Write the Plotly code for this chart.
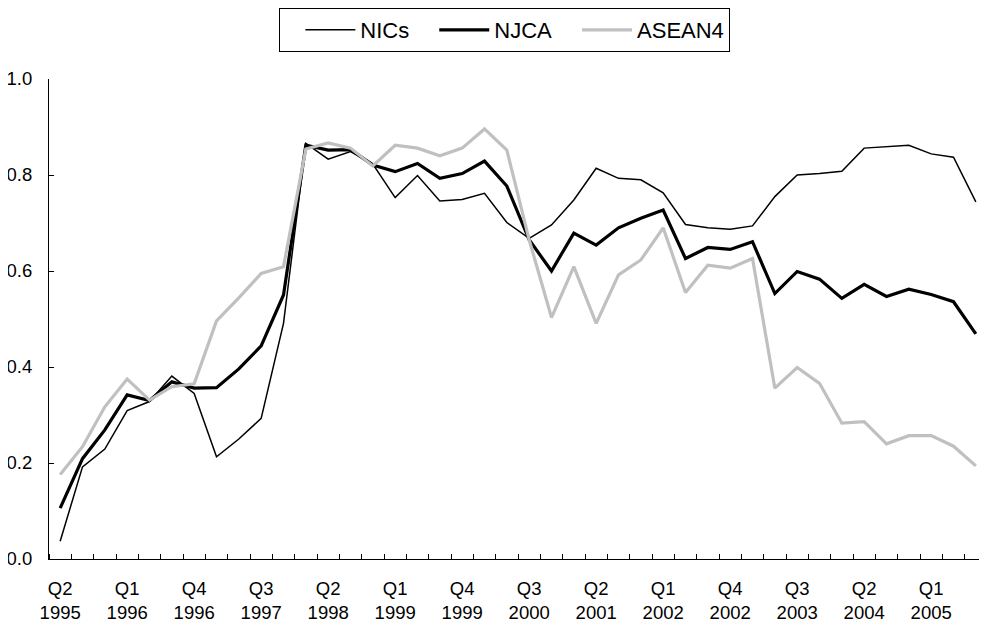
import plotly.graph_objects as go

quarters = [
    "1995Q2", "1995Q3", "1995Q4",
    "1996Q1", "1996Q2", "1996Q3", "1996Q4",
    "1997Q1", "1997Q2", "1997Q3", "1997Q4",
    "1998Q1", "1998Q2", "1998Q3", "1998Q4",
    "1999Q1", "1999Q2", "1999Q3", "1999Q4",
    "2000Q1", "2000Q2", "2000Q3", "2000Q4",
    "2001Q1", "2001Q2", "2001Q3", "2001Q4",
    "2002Q1", "2002Q2", "2002Q3", "2002Q4",
    "2003Q1", "2003Q2", "2003Q3", "2003Q4",
    "2004Q1", "2004Q2", "2004Q3", "2004Q4",
    "2005Q1", "2005Q2", "2005Q3",
]

nics = [0.037, 0.192, 0.229, 0.309, 0.328, 0.381, 0.345, 0.213, 0.250, 0.293,
        0.491, 0.866, 0.833, 0.849, 0.823, 0.753, 0.799, 0.746, 0.749, 0.762,
        0.701, 0.668, 0.696, 0.748, 0.814, 0.793, 0.790, 0.763, 0.697, 0.690,
        0.687, 0.694, 0.755, 0.800, 0.803, 0.808, 0.856, 0.859, 0.862, 0.844,
        0.837, 0.744]

njca = [0.106, 0.209, 0.269, 0.342, 0.330, 0.369, 0.356, 0.357, 0.396, 0.444,
        0.550, 0.862, 0.852, 0.853, 0.821, 0.807, 0.824, 0.793, 0.803, 0.829,
        0.777, 0.665, 0.600, 0.679, 0.654, 0.690, 0.710, 0.727, 0.626, 0.649,
        0.645, 0.661, 0.553, 0.599, 0.583, 0.543, 0.572, 0.547, 0.562, 0.551,
        0.536, 0.469]

asean4 = [0.176, 0.234, 0.317, 0.375, 0.331, 0.359, 0.365, 0.496, 0.544, 0.595,
          0.609, 0.854, 0.867, 0.856, 0.819, 0.862, 0.856, 0.840, 0.856, 0.896,
          0.852, 0.665, 0.503, 0.609, 0.491, 0.592, 0.623, 0.690, 0.555, 0.612,
          0.606, 0.626, 0.356, 0.399, 0.366, 0.283, 0.286, 0.240, 0.257, 0.257,
          0.235, 0.194]

tick_labels = ["Q2<br>1995", "Q1<br>1996", "Q4<br>1996", "Q3<br>1997", "Q2<br>1998",
               "Q1<br>1999", "Q4<br>1999", "Q3<br>2000", "Q2<br>2001", "Q1<br>2002",
               "Q4<br>2002", "Q3<br>2003", "Q2<br>2004", "Q1<br>2005"]
tick_positions = [quarters.index(q) for q in
                  ["1995Q2", "1996Q1", "1996Q4", "1997Q3", "1998Q2", "1999Q1", "1999Q4",
                   "2000Q3", "2001Q2", "2002Q1", "2002Q4", "2003Q3", "2004Q2", "2005Q1"]]

x = list(range(len(quarters)))
FONT = "Liberation Sans, Arial, sans-serif"

fig = go.Figure()
fig.add_trace(go.Scatter(x=x, y=nics, name="NICs", mode="lines",
                         line=dict(color="black", width=1.5), customdata=quarters))
fig.add_trace(go.Scatter(x=x, y=njca, name="NJCA", mode="lines",
                         line=dict(color="black", width=3.2), customdata=quarters))
fig.add_trace(go.Scatter(x=x, y=asean4, name="ASEAN4", mode="lines",
                         line=dict(color="#c0c0c0", width=3.2), customdata=quarters))

# page body has an 8px margin, so the figure occupies page x 8..987, y 8..625
fig.update_layout(
    width=979, height=617,
    margin=dict(l=41, r=0, t=71, b=66),
    paper_bgcolor="white", plot_bgcolor="white",
    font=dict(family=FONT, size=18.5, color="black"),
    showlegend=True,
    legend=dict(
        orientation="h", x=0.486, xanchor="center", y=1.148, yanchor="top",
        bordercolor="black", borderwidth=1,
        font=dict(family=FONT, size=22, color="black"),
        itemwidth=50, indentation=20,
    ),
    xaxis=dict(
        range=[-0.5, len(quarters) - 0.5],
        tickmode="array", tickvals=tick_positions, ticktext=tick_labels,
        ticks="", showgrid=False, zeroline=False,
        showline=True, linecolor="black", linewidth=1,
        ticklabelstandoff=13,
        minor=dict(tickmode="linear", tick0=0.5, dtick=1, ticks="inside",
                   ticklen=5, tickcolor="black", tickwidth=1, showgrid=False),
    ),
    yaxis=dict(
        range=[0, 1], tickmode="linear", tick0=0, dtick=0.2, tickformat=".1f",
        ticks="inside", ticklen=5, tickcolor="black", tickwidth=1,
        showgrid=False, zeroline=False,
        showline=True, linecolor="black", linewidth=1,
        ticklabelstandoff=12,
    ),
)

fig.write_html("out.html")
